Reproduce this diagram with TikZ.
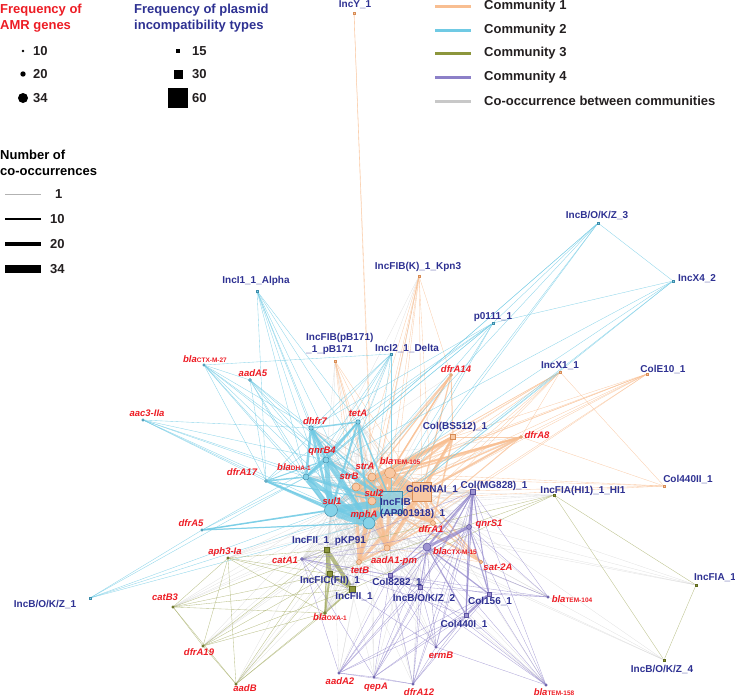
\documentclass[tikz,border=0pt]{standalone}
\usepackage{fontspec}
\setmainfont{Liberation Sans}
\usetikzlibrary{backgrounds}
\definecolor{amrred}{RGB}{237,28,36}
\definecolor{plasmidblue}{RGB}{46,49,146}
\definecolor{legendblack}{RGB}{35,31,32}
\definecolor{commorange}{RGB}{248,190,145}
\definecolor{commcyan}{RGB}{112,202,228}
\definecolor{commolive}{RGB}{140,150,60}
\definecolor{commpurple}{RGB}{140,128,200}
\definecolor{crossgray}{RGB}{200,200,200}
\definecolor{orangedk}{RGB}{215,140,85}
\definecolor{cyandk}{RGB}{60,140,170}
\definecolor{olivedk}{RGB}{95,105,30}
\definecolor{purpledk}{RGB}{90,80,160}
\newcommand{\blasub}[1]{bla{\upshape\fontsize{6.5}{7}\selectfont #1}}

\begin{document}
\begin{tikzpicture}[x=1pt, y=-1pt,
    glab/.style={text=amrred, font=\fontsize{9.5}{11}\selectfont\bfseries\itshape, inner sep=0pt},
    plab/.style={text=plasmidblue, font=\fontsize{10}{11.5}\selectfont\bfseries, inner sep=0pt},
    legtext/.style={text=legendblack, font=\fontsize{13}{16}\selectfont\bfseries, inner sep=0pt},
    gene/.style={circle, inner sep=0pt, minimum size=#1, line width=0.5pt},
    gene/.default=2.4pt,
    plasmid/.style={rectangle, inner sep=0pt, minimum size=#1, line width=0.5pt},
    plasmid/.default=2.4pt,
    k1/.style={fill=commorange!85, draw=orangedk},
    k2/.style={fill=commcyan!85, draw=cyandk},
    k3/.style={fill=commolive, draw=olivedk},
    k4/.style={fill=commpurple!85, draw=purpledk},
    e1/.style={draw=commorange, line width=#1, opacity=0.75}, e1/.default=0.35,
    e2/.style={draw=commcyan, line width=#1, opacity=0.8}, e2/.default=0.35,
    e3/.style={draw=commolive!80, line width=#1, opacity=0.75}, e3/.default=0.35,
    e4/.style={draw=commpurple, line width=#1, opacity=0.7}, e4/.default=0.35,
    eg/.style={draw=crossgray, line width=#1, opacity=0.5}, eg/.default=0.35
]
\useasboundingbox (0,0) rectangle (735,696);

% Legend: AMR gene frequency
\node[legtext, text=amrred, align=left, anchor=north west] (amrtitle) at (0,4) {Frequency of\\AMR genes};
\node[gene=2.6pt, fill=black] (amr10) at (23,51) {};
\node[gene=5.4pt, fill=black] (amr20) at (23,74) {};
\node[gene=10pt, fill=black] (amr34) at (23,98) {};
\node[legtext, anchor=west] (amr10t) at (33,51) {10};
\node[legtext, anchor=west] (amr20t) at (33,74) {20};
\node[legtext, anchor=west] (amr34t) at (33,98) {34};

% Legend: plasmid frequency
\node[legtext, text=plasmidblue, align=left, anchor=north west] (inctitle) at (134,4) {Frequency of plasmid\\incompatibility types};
\node[plasmid=4pt, fill=black] (inc15) at (178,51) {};
\node[plasmid=9pt, fill=black] (inc30) at (178,74) {};
\node[plasmid=20pt, fill=black] (inc60) at (178,98) {};
\node[legtext, anchor=west] (inc15t) at (192,51) {15};
\node[legtext, anchor=west] (inc30t) at (192,74) {30};
\node[legtext, anchor=west] (inc60t) at (192,98) {60};

% Legend: communities
\draw[commorange, line width=3pt] (435,6) -- (471,6);
\draw[commcyan, line width=3pt] (435,30) -- (471,30);
\draw[commolive, line width=3pt] (435,53) -- (471,53);
\draw[commpurple, line width=3pt] (435,77) -- (471,77);
\draw[crossgray, line width=3pt] (435,101) -- (471,101);
\node[legtext, anchor=west] (comm1t) at (484,6) {Community 1};
\node[legtext, anchor=west] (comm2t) at (484,30) {Community 2};
\node[legtext, anchor=west] (comm3t) at (484,53) {Community 3};
\node[legtext, anchor=west] (comm4t) at (484,77) {Community 4};
\node[legtext, anchor=west] (crosst) at (484,101) {Co-occurrence between communities};

% Legend: edge weights
\node[legtext, text=black, align=left, anchor=north west] (cooctitle) at (0,150) {Number of\\co-occurrences};
\draw[gray!60, line width=0.4pt] (5,194) -- (41,194);
\draw[black, line width=1.8pt] (5,219) -- (41,219);
\draw[black, line width=4.5pt] (5,244) -- (41,244);
\draw[black, line width=7.5pt] (5,269) -- (41,269);
\node[legtext, anchor=west] (w1t) at (55,194) {1};
\node[legtext, anchor=west] (w10t) at (50,219) {10};
\node[legtext, anchor=west] (w20t) at (50,244) {20};
\node[legtext, anchor=west] (w34t) at (50,269) {34};

% === Community 1 ===
\node[plasmid=19pt, k1] (colRNAI) at (422,492) {};
\node[plasmid=5pt, k1] (colBS) at (453,437) {};
\node[plasmid, k1] (incY) at (354,13) {};
\node[plasmid, k1] (incFIBK) at (419,276) {};
\node[plasmid, k1] (incFIBpB) at (335,361) {};
\node[plasmid, k1] (incX1) at (560,372) {};
\node[plasmid, k1] (colE10) at (647,374) {};
\node[plasmid, k1] (col440II) at (664,486) {};
\node[gene=8pt, k1] (strA) at (372,477) {};
\node[gene=8pt, k1] (strB) at (356,487) {};
\node[gene=11pt, k1] (tem105) at (390,473) {};
\node[gene=8pt, k1] (sul2) at (372,501) {};
\node[gene=5pt, k1] (dfrA1) at (433,523) {};
\node[gene=6pt, k1] (aadA1pm) at (387,548) {};
\node[gene=5pt, k1] (tetB) at (359,562) {};
\node[gene=3.5pt, k1] (sat2A) at (481,562) {};
\node[gene=3pt, k1] (dfrA14) at (451,375) {};
\node[gene=3pt, k1] (dfrA8) at (521,437) {};

% === Community 2 ===
\node[plasmid=22pt, k2, fill opacity=0.8] (incFIBAP) at (391,502) {};
\node[plasmid, k2] (incI1) at (257,291) {};
\node[plasmid, k2] (incI2) at (391,354) {};
\node[plasmid, k2] (p0111) at (493,323) {};
\node[plasmid, k2] (incB3) at (598,223) {};
\node[plasmid, k2] (incX4) at (673,281) {};
\node[plasmid, k2] (incB1) at (90,598) {};
\node[gene=13pt, k2] (sul1) at (331,510) {};
\node[gene=12pt, k2] (mphA) at (369,523) {};
\node[gene=6pt, k2] (qnrB4) at (326,460) {};
\node[gene=6pt, k2] (dha1) at (306,477) {};
\node[gene=4.5pt, k2] (dhfr7) at (311,428) {};
\node[gene=4.5pt, k2] (tetA) at (358,422) {};
\node[gene=3pt, k2] (dfrA17) at (266,481) {};
\node[gene=2.5pt, k2] (ctxm27) at (204,365) {};
\node[gene=3pt, k2] (aadA5) at (250,380) {};
\node[gene=2.5pt, k2] (aac3) at (143,420) {};
\node[gene=2.5pt, k2] (dfrA5) at (202,530) {};

% === Community 3 ===
\node[plasmid=5pt, k3] (incFIIpKP) at (327,550) {};
\node[plasmid=5pt, k3] (incFIC) at (330,574) {};
\node[plasmid=6pt, k3] (incFII) at (352,589) {};
\node[plasmid, k3] (incFIAHI) at (554,495) {};
\node[plasmid, k3] (incFIA) at (696,585) {};
\node[plasmid, k3] (incB4) at (664,660) {};
\node[gene=3pt, k3] (oxa1) at (325,613) {};
\node[gene=2.5pt, k3] (aph3) at (228,558) {};
\node[gene=2.5pt, k3] (catB3) at (173,607) {};
\node[gene=2.5pt, k3] (dfrA19) at (203,646) {};
\node[gene=2.5pt, k3] (aadB) at (236,684) {};

% === Community 4 ===
\node[plasmid=5pt, k4] (colMG) at (473,492) {};
\node[plasmid=3.5pt, k4] (col8282) at (390,575) {};
\node[plasmid=3.5pt, k4] (incB2) at (420,587) {};
\node[plasmid=4pt, k4] (col156) at (489,594) {};
\node[plasmid=4pt, k4] (col440I) at (466,615) {};
\node[gene=8pt, k4] (ctxm15) at (427,547) {};
\node[gene=5pt, k4] (qnrS1) at (469,527) {};
\node[gene=3pt, k4] (catA1) at (302,559) {};
\node[gene=2.5pt, k4] (tem104) at (548,597) {};
\node[gene=2.5pt, k4] (ermB) at (436,647) {};
\node[gene=2.5pt, k4] (dfrA12) at (413,684) {};
\node[gene=2.5pt, k4] (tem158) at (546,685) {};
\node[gene=2.5pt, k4] (aadA2) at (339,673) {};
\node[gene=2.5pt, k4] (qepA) at (374,677) {};

% Plasmid labels
\node[plab] (incYt) at (355,5) {IncY\_1};
\node[plab] (incFIBKt) at (418,267) {IncFIB(K)\_1\_Kpn3};
\node[plab] (incI1t) at (256,281) {IncI1\_1\_Alpha};
\node[plab, align=left, anchor=west] (incFIBpBt) at (306,344) {IncFIB(pB171)\\\_1\_pB171};
\node[plab] (incI2t) at (407,348) {IncI2\_1\_Delta};
\node[plab] (p0111t) at (493,317) {p0111\_1};
\node[plab] (incB3t) at (597,215) {IncB/O/K/Z\_3};
\node[plab, anchor=west] (incX4t) at (678,279) {IncX4\_2};
\node[plab] (incX1t) at (560,366) {IncX1\_1};
\node[plab] (colE10t) at (663,369) {ColE10\_1};
\node[plab] (col440IIt) at (688,479) {Col440II\_1};
\node[plab] (incFIAHIt) at (583,491) {IncFIA(HI1)\_1\_HI1};
\node[plab] (colMGt) at (494,486) {Col(MG828)\_1};
\node[plab] (colBSt) at (455,427) {Col(BS512)\_1};
\node[plab] (colRNAIt) at (432,489) {ColRNAI\_1};
\node[plab, align=left, anchor=west] (incFIBAPt) at (380,508.5) {IncFIB\\(AP001918)\_1};
\node[plab] (incFIIpKPt) at (329,541) {IncFII\_1\_pKP91};
\node[plab] (incFICt) at (330,581) {IncFIC(FII)\_1};
\node[plab] (incFIIt) at (354,597) {IncFII\_1};
\node[plab] (col8282t) at (397,582) {Col8282\_1};
\node[plab] (incB2t) at (424,598) {IncB/O/K/Z\_2};
\node[plab] (col156t) at (490,601) {Col156\_1};
\node[plab] (col440It) at (464,624) {Col440I\_1};
\node[plab] (incFIAt) at (715,578) {IncFIA\_1};
\node[plab] (incB4t) at (662,669) {IncB/O/K/Z\_4};
\node[plab] (incB1t) at (45,604) {IncB/O/K/Z\_1};

% AMR gene labels
\node[glab] (ctxm27t) at (205,359) {\blasub{CTX-M-27}};
\node[glab] (aadA5t) at (253,373) {aadA5};
\node[glab] (aac3t) at (147,413) {aac3-IIa};
\node[glab] (dfrA17t) at (242,472) {dfrA17};
\node[glab] (dhfr7t) at (315,421) {dhfr7};
\node[glab] (tetAt) at (358,413) {tetA};
\node[glab] (qnrB4t) at (322,451) {qnrB4};
\node[glab] (dha1t) at (294,467) {\blasub{DHA-1}};
\node[glab] (strAt) at (365,466) {strA};
\node[glab] (strBt) at (349,476) {strB};
\node[glab] (tem105t) at (400,461) {\blasub{TEM-105}};
\node[glab] (sul2t) at (374,493) {sul2};
\node[glab] (sul1t) at (332,501) {sul1};
\node[glab] (mphAt) at (364,515) {mphA};
\node[glab] (dfrA1t) at (431,529) {dfrA1};
\node[glab] (aadA1pmt) at (394,561) {aadA1-pm};
\node[glab] (tetBt) at (360,570) {tetB};
\node[glab] (catA1t) at (285,560) {catA1};
\node[glab] (ctxm15t) at (455,551) {\blasub{CTX-M-15}};
\node[glab] (qnrS1t) at (489,524) {qnrS1};
\node[glab] (sat2At) at (498,567) {sat-2A};
\node[glab] (tem104t) at (572,599) {\blasub{TEM-104}};
\node[glab] (ermBt) at (441,655) {ermB};
\node[glab] (dfrA12t) at (419,692) {dfrA12};
\node[glab] (tem158t) at (554,692) {\blasub{TEM-158}};
\node[glab] (aadA2t) at (340,681) {aadA2};
\node[glab] (qepAt) at (376,687) {qepA};
\node[glab] (aadBt) at (245,688) {aadB};
\node[glab] (dfrA19t) at (199,652) {dfrA19};
\node[glab] (catB3t) at (165,597) {catB3};
\node[glab] (aph3t) at (225,552) {aph3-Ia};
\node[glab] (oxa1t) at (330,617) {\blasub{OXA-1}};
\node[glab] (dfrA5t) at (191,523) {dfrA5};
\node[glab] (dfrA14t) at (456,369) {dfrA14};
\node[glab] (dfrA8t) at (537,435) {dfrA8};

\begin{scope}[on background layer]
% Co-occurrence between communities
\foreach \a in {sul1,mphA,qnrB4,dha1,incFIBAP,dhfr7,tetA}
  \foreach \b in {strA,strB,sul2,tem105,colRNAI,aadA1pm,tetB,dfrA1}
    \draw[eg=0.6] (\a) -- (\b);
\foreach \a in {sul1,mphA,sul2,strB,strA,colRNAI,incFIBAP,aadA1pm,tetB,tem105}
  \foreach \b in {incFIIpKP,incFIC,incFII,oxa1,catA1,ctxm15,colMG,qnrS1,col8282,incB2}
    \draw[eg] (\a) -- (\b);
\foreach \a in {aph3,catB3,dfrA19,aadB,incFIA,incB4,tem104,incFIAHI,tem158,ermB,dfrA12,qepA,aadA2}
  \foreach \b in {sul1,mphA,sul2,colRNAI}
    \draw[eg] (\a) -- (\b);
\foreach \a in {incFIBK,incFIBpB,dfrA14,dfrA8}
  \foreach \b in {sul1,mphA,qnrB4}
    \draw[eg] (\a) -- (\b);
\foreach \a/\b/\w in {sul1/sul2/3, mphA/sul2/3, mphA/strB/2.5, sul1/strB/2.5, mphA/colRNAI/2.5,
    incFIBAP/colRNAI/2, incFIBAP/sul2/2, mphA/aadA1pm/2, mphA/tetB/2, sul1/strA/2,
    mphA/tem105/2, sul1/tem105/1.5, sul1/incFIIpKP/1.5, mphA/incFIC/1.2, qnrB4/strA/1.5}
  \draw[eg=\w] (\a) -- (\b);

% Community 1
\foreach \a in {incFIBK,incFIBpB,incX1,colE10}
  \foreach \b in {strA,strB,sul2,tem105,colRNAI,aadA1pm,tetB}
    \draw[e1] (\a) -- (\b);
\foreach \a/\b in {incY/strA, incY/sul2, incFIBK/dfrA14, incFIBK/dfrA1, incX1/colBS, incX1/dfrA8,
    incX1/col440II, colE10/colBS, colE10/dfrA8, col440II/colRNAI, col440II/tem105, col440II/strA,
    col440II/sul2, col440II/dfrA8, sat2A/strB, sat2A/aadA1pm}
  \draw[e1] (\a) -- (\b);
\foreach \a/\b/\w in {colRNAI/strA/5, colRNAI/strB/5, colRNAI/sul2/6, colRNAI/tem105/6,
    strA/strB/4, strA/sul2/4, strB/sul2/5, tem105/strA/4, tem105/sul2/4, tem105/strB/3,
    colRNAI/dfrA1/3, colRNAI/aadA1pm/4, colRNAI/tetB/3, sul2/aadA1pm/4, strB/aadA1pm/3,
    strA/aadA1pm/3, tem105/aadA1pm/3, sul2/tetB/3, strB/tetB/3, strA/tetB/2, tem105/tetB/2,
    aadA1pm/tetB/2, dfrA1/sul2/2, dfrA1/strA/2, dfrA1/strB/2, dfrA1/tem105/2, dfrA1/aadA1pm/1.5,
    colBS/colRNAI/3, colBS/tem105/3, colBS/strA/2.5, colBS/sul2/2, colBS/strB/2,
    colBS/dfrA1/1.5, colBS/aadA1pm/1.5, dfrA8/colRNAI/2, dfrA8/tem105/2, dfrA8/strA/1.5,
    dfrA8/sul2/1.5, dfrA8/strB/1.5, dfrA8/colBS/1, dfrA8/aadA1pm/1, dfrA14/tem105/1.5,
    dfrA14/strA/1.2, dfrA14/colRNAI/1.2, dfrA14/strB/1, dfrA14/sul2/1, dfrA14/colBS/1,
    sat2A/colRNAI/1.5, sat2A/sul2/1.5, sat2A/tem105/1, sat2A/dfrA1/1}
  \draw[e1=\w] (\a) -- (\b);

% Community 2
\foreach \a in {aac3,ctxm27,aadA5,incI1,incI2,p0111}
  \foreach \b in {sul1,mphA,dha1,qnrB4,dhfr7,incFIBAP,dfrA17}
    \draw[e2] (\a) -- (\b);
\foreach \a in {incB3,incX4,incB1,dfrA5}
  \foreach \b in {sul1,mphA,incFIBAP,dha1}
    \draw[e2] (\a) -- (\b);
\foreach \a/\b in {ctxm27/aadA5, ctxm27/incI2, incI1/tetA, incI2/tetA, p0111/tetA, p0111/incX4,
    p0111/incB3, incB3/incX4, incB3/qnrB4, incX1/mphA, dfrA5/incB1, dfrA5/qnrB4}
  \draw[e2] (\a) -- (\b);
\foreach \a/\b/\w in {sul1/mphA/10, sul1/incFIBAP/7, mphA/incFIBAP/6, qnrB4/sul1/5, dha1/sul1/5,
    qnrB4/mphA/4, dha1/mphA/4, qnrB4/dha1/3, qnrB4/incFIBAP/3, dha1/incFIBAP/2.5,
    dhfr7/qnrB4/2.5, dhfr7/dha1/2.5, dhfr7/sul1/2.5, dhfr7/mphA/2, dhfr7/incFIBAP/1.5,
    tetA/qnrB4/2, tetA/sul1/2, tetA/mphA/2, tetA/dha1/1.5, tetA/dhfr7/1.5, tetA/incFIBAP/1.5,
    dfrA17/sul1/2, dfrA17/dha1/1.5, dfrA17/mphA/1.5, dfrA17/qnrB4/1, dfrA17/incFIBAP/1,
    dfrA5/sul1/1.5, dfrA5/mphA/1.2}
  \draw[e2=\w] (\a) -- (\b);

% Community 3
\foreach \a in {aph3,catB3,dfrA19,aadB}
  \foreach \b in {incFIIpKP,incFIC,incFII,oxa1}
    \draw[e3] (\a) -- (\b);
\foreach \a/\b in {aph3/catB3, aph3/dfrA19, aph3/aadB, catB3/dfrA19, catB3/aadB, dfrA19/aadB,
    incFIAHI/incFIA, incFIAHI/incB4, incFIAHI/incFIIpKP, incFIAHI/incFIC, incFIAHI/incFII,
    incFIA/incB4}
  \draw[e3] (\a) -- (\b);
\foreach \a/\b/\w in {incFIIpKP/incFIC/4, incFIIpKP/incFII/4, incFIC/incFII/3, oxa1/incFIC/2,
    oxa1/incFII/1.2, oxa1/incFIIpKP/1.2}
  \draw[e3=\w] (\a) -- (\b);

% Community 4
\foreach \a in {aadA2,qepA,dfrA12,ermB,tem158,catA1}
  \foreach \b in {colMG,qnrS1,ctxm15,col8282,incB2,col156,col440I}
    \draw[e4] (\a) -- (\b);
\foreach \a/\b in {tem104/colMG, tem104/qnrS1, tem104/ctxm15, tem104/col8282, tem104/incB2,
    tem104/col156, aadA2/qepA, qepA/dfrA12, aadA2/dfrA12, ermB/dfrA12, ermB/tem158,
    catA1/aadA2, catA1/qepA, catA1/ermB, col8282/incB2}
  \draw[e4] (\a) -- (\b);
\foreach \a/\b/\w in {colMG/qnrS1/2, colMG/ctxm15/2, qnrS1/ctxm15/3, col156/col440I/2,
    ctxm15/col156/1.2, ctxm15/col440I/1.2, qnrS1/col156/1.2, qnrS1/col440I/1.2,
    colMG/col156/1, colMG/col440I/1, ctxm15/col8282/1, ctxm15/incB2/1, qnrS1/col8282/0.8,
    colMG/col8282/0.8, colMG/incB2/0.8}
  \draw[e4=\w] (\a) -- (\b);
\end{scope}

\end{tikzpicture}
\end{document}
